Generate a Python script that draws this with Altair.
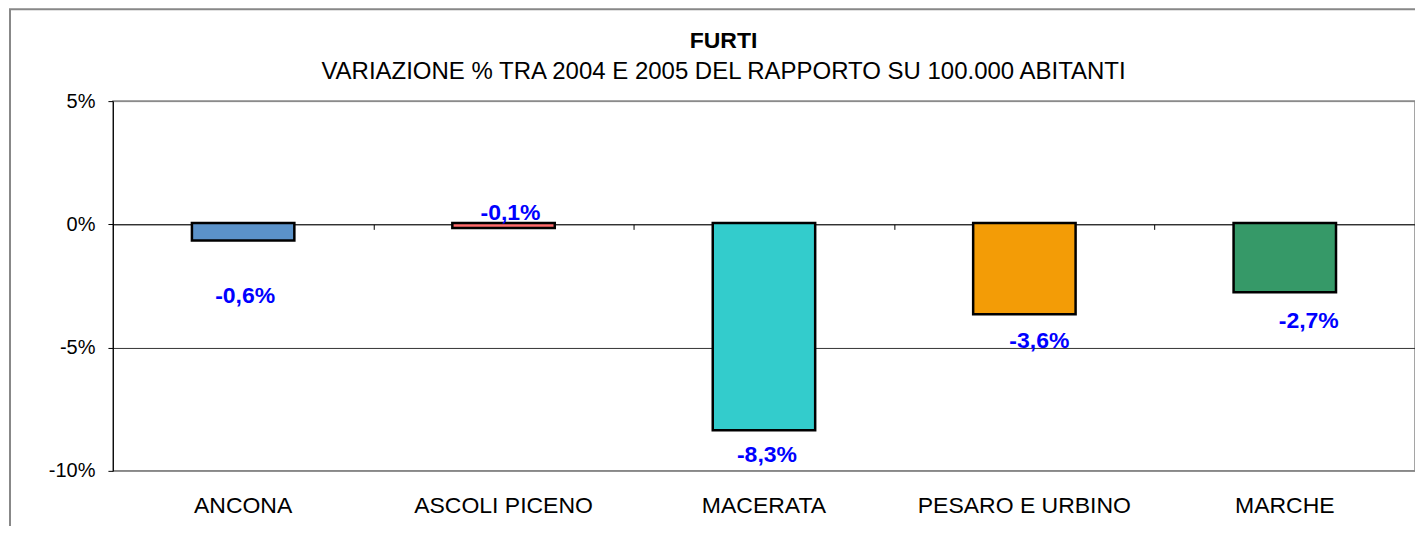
import altair as alt
import pandas as pd

categories = ["ANCONA", "ASCOLI PICENO", "MACERATA", "PESARO E URBINO", "MARCHE"]
values = [-0.6, -0.1, -8.3, -3.6, -2.7]
colors = ["#5B92C9", "#FF6B6B", "#33CCCC", "#F39C06", "#369968"]
y_ticks = [-10, -5, 0, 5]
title_text = "FURTI"
subtitle_text = "VARIAZIONE % TRA 2004 E 2005 DEL RAPPORTO SU 100.000 ABITANTI"

df = pd.DataFrame({"cat": categories, "val": values})
df["lab"] = [f"{v:.1f}".replace(".", ",") + "%" for v in values]

W, H = 1303, 370
FONT = "Liberation Sans"
# label style offsets (pixels), like Excel's placement
label_offsets = {
    "ANCONA": (2, 57),
    "ASCOLI PICENO": (7, -14),
    "MACERATA": (3, 26),
    "PESARO E URBINO": (15, 28),
    "MARCHE": (24, 30),
}

xscale = alt.Scale(domain=categories, paddingInner=0, paddingOuter=0)
yscale = alt.Scale(domain=[-10, 5], nice=False)

base = alt.Chart(df)

# black outline drawn outside the bar (Excel style)
outline = base.mark_bar(size=100, color="black", stroke="black", strokeWidth=5).encode(
    x=alt.X("cat:N", sort=categories, scale=xscale,
            axis=alt.Axis(orient="bottom", title=None, domain=False, ticks=False,
                          labelAngle=0, labelFontSize=23, labelFont=FONT, labelLimit=0,
                          labelColor="black", labelPadding=24, grid=False)),
    y=alt.Y("val:Q", scale=yscale,
            axis=alt.Axis(values=y_ticks, labelExpr="datum.value + '%'", title=None,
                          domainColor="black", domainWidth=1, tickColor="black",
                          tickSize=5, labelFontSize=20, labelFont=FONT,
                          labelColor="black", labelPadding=13, grid=True,
                          gridColor=alt.condition("datum.value == -5", alt.value("#333333"), alt.value("#888888")))),
    y2=alt.datum(0),
)

bars = base.mark_bar(size=100).encode(
    x=alt.X("cat:N", sort=categories, scale=xscale, axis=None),
    y=alt.Y("val:Q", scale=yscale, axis=None),
    y2=alt.datum(0),
    color=alt.Color("cat:N", scale=alt.Scale(domain=categories, range=colors), legend=None),
)

zero_axis = base.mark_point(opacity=0).encode(
    x=alt.X("cat:N", sort=categories, scale=xscale,
            axis=alt.Axis(orient="bottom", title=None, labels=False, domain=True,
                          domainColor="black", domainWidth=1, ticks=True,
                          tickColor="black", tickSize=5, tickBand="extent",
                          offset=-(H * 5 / 15 * 2), grid=False)),
    y=alt.Y("val:Q", scale=yscale, axis=None),
)

text_layers = []
for cat in categories:
    dx, dy = label_offsets[cat]
    t = base.transform_filter(alt.datum.cat == cat).mark_text(
        font=FONT, fontSize=23, fontWeight="bold", color="#0000FF",
        baseline="middle", align="center", dx=dx, dy=dy,
    ).encode(
        x=alt.X("cat:N", sort=categories, scale=xscale, axis=None),
        y=alt.Y("val:Q", scale=yscale, axis=None),
        text="lab:N",
    )
    text_layers.append(t)

title = alt.Chart(pd.DataFrame({"t": [title_text]})).mark_text(
    font=FONT, fontSize=23, fontWeight="bold", color="black",
    align="center", baseline="alphabetic"
).encode(text="t:N", x=alt.value(611), y=alt.value(-53))

subtitle = alt.Chart(pd.DataFrame({"t": [subtitle_text]})).mark_text(
    font=FONT, fontSize=24, color="black", align="center", baseline="alphabetic"
).encode(text="t:N", x=alt.value(611), y=alt.value(-22))

frame = alt.Chart(pd.DataFrame({"a": [0]})).mark_rect(
    fillOpacity=0, stroke="#888888", strokeWidth=2
).encode(
    x=alt.value(-103), x2=alt.value(W + 40), y=alt.value(-92), y2=alt.value(H + 90)
)

chart = alt.layer(frame, outline, bars, zero_axis, *text_layers, title, subtitle).resolve_axis(
    x="independent", y="independent"
).properties(
    width=W, height=H,
    autosize=alt.AutoSizeParams(type="none"),
    padding={"left": 105, "top": 93, "right": 0, "bottom": 55},
    background="white",
).configure_view(stroke="#888888", strokeWidth=1.5)

chart.save("out.html", embed_options={"renderer": "svg", "actions": False})
